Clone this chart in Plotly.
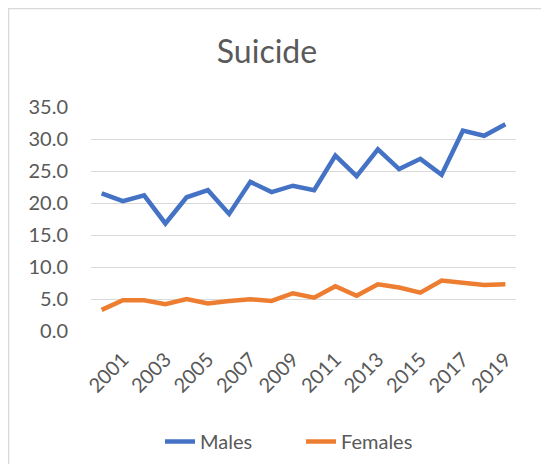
import plotly.graph_objects as go

years = [str(y) for y in range(2000, 2020)]
males = [21.5, 20.3, 21.2, 16.8, 20.9, 22.0, 18.3, 23.3, 21.7, 22.7,
         22.0, 27.4, 24.2, 28.4, 25.3, 26.9, 24.4, 31.3, 30.5, 32.3]
females = [3.3, 4.8, 4.8, 4.2, 5.0, 4.3, 4.7, 4.95, 4.7, 5.9,
           5.2, 7.0, 5.5, 7.3, 6.8, 6.0, 7.9, 7.5, 7.2, 7.3]
x_ticks = [str(y) for y in range(2001, 2020, 2)]
y_ticks = [0, 5, 10, 15, 20, 25, 30, 35]

# page body has an 8px default margin; work in reference coords minus 8
OFF = 8
W, H = 549 - 2 * OFF, 472 - 2 * OFF
L, T = 91 - OFF, 107 - OFF
PR, PB = 516 - OFF, 331 - OFF
pw, ph = PR - L, PB - T
R, B = W - PR, H - PB

font_family = "Lato, 'Open Sans', sans-serif"
grey = "#595959"

fig = go.Figure()
fig.add_trace(go.Scatter(x=years, y=males, name="Males", mode="lines",
                         line=dict(color="#4472C4", width=4.5)))
fig.add_trace(go.Scatter(x=years, y=females, name="Females", mode="lines",
                         line=dict(color="#ED7D31", width=4.5)))

fig.update_layout(
    width=W, height=H,
    margin=dict(l=L, r=R, t=T, b=B, autoexpand=False),
    paper_bgcolor="white", plot_bgcolor="white",
    font=dict(family=font_family, color=grey, size=20),
    title=dict(text="Suicide", x=(267 - OFF) / W, xanchor="center",
               y=1 - (52 - OFF) / H, yanchor="middle",
               font=dict(size=32, color=grey, family=font_family)),
    showlegend=True,
    legend=dict(orientation="h", x=(160 - OFF - L) / pw, xanchor="left",
                y=1 - (441.5 - OFF - T) / ph, yanchor="middle",
                font=dict(size=20, color=grey),
                entrywidth=96, entrywidthmode="pixels",
                bgcolor="rgba(0,0,0,0)"),
    xaxis=dict(type="category", range=[-0.5, 19.5], tickmode="array",
               tickvals=x_ticks, ticktext=x_ticks,
               tickangle=-45, showgrid=False, showline=False, zeroline=False,
               ticks="", ticklabelstandoff=12,
               tickfont=dict(size=20, color=grey), automargin=False),
    yaxis=dict(range=[0, 35], tickmode="array", tickvals=y_ticks,
               ticktext=[f"{v:.1f}" for v in y_ticks],
               showgrid=True, gridcolor="#d9d9d9", gridwidth=1.2,
               zeroline=False, showline=False, ticks="",
               ticklabelstandoff=22, tickfont=dict(size=20, color=grey),
               automargin=False),
    shapes=[dict(type="rect", xref="paper", yref="paper",
                 x0=(0.5 - L) / pw, x1=(W + 20 - L) / pw,
                 y0=1 - (H + 20 - T) / ph, y1=1 - (0.5 - T) / ph,
                 line=dict(color="#d9d9d9", width=1.5), fillcolor="rgba(0,0,0,0)",
                 layer="below")],
)

fig.write_html("out.html")
